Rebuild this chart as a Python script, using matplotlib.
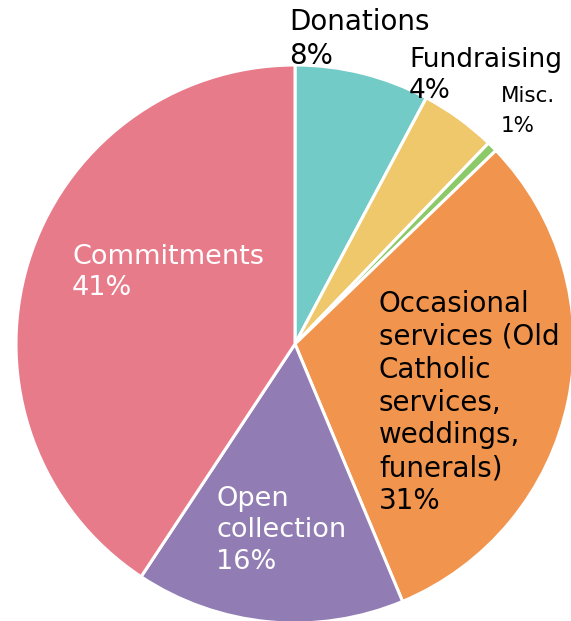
import matplotlib
matplotlib.use("Agg")
import matplotlib.pyplot as plt

categories = ["Donations", "Fundraising", "Misc.",
              "Occasional services (Old Catholic services, weddings, funerals)",
              "Open collection", "Commitments"]
values = [7.8, 4.4, 0.6, 30.9, 15.6, 40.7]
label_texts = ["Donations", "Fundraising", "Misc.",
               "Occasional\nservices (Old\nCatholic\nservices,\nweddings,\nfunerals)",
               "Open\ncollection", "Commitments"]

colors = ["#73cbc8", "#eec86a", "#8cc968", "#f0944e", "#917db3", "#e87b8a"]
text_colors = ["black", "black", "black", "black", "white", "white"]
font_sizes = [20, 19, 15.5, 20, 19.5, 19.5]
line_spacings = [1.25, 1.25, 1.6, 1.22, 1.27, 1.27]
# label anchor (left, top) in pixel coords from top-left
label_pos = [(289, 8), (409, 47), (501, 86), (379, 290), (216, 486), (72, 244)]

W, H = 571, 621
fig = plt.figure(figsize=(W / 100, H / 100), dpi=100)
ax = fig.add_axes([0, 0, 1, 1])

ax.pie(values, colors=colors, startangle=90, counterclock=False,
       radius=279, center=(295, H - 344),
       wedgeprops=dict(edgecolor="white", linewidth=2.2))
ax.set_xlim(0, W)
ax.set_ylim(0, H)
ax.set_aspect("equal")
ax.axis("off")

total = sum(values)
for txt, v, (x, y), c, fs, ls in zip(label_texts, values, label_pos, text_colors,
                                     font_sizes, line_spacings):
    pct = round(v / total * 100)
    ax.text(x, H - y, f"{txt}\n{pct}%", ha="left", va="top", color=c,
            fontsize=fs, family="DejaVu Sans", linespacing=ls)

fig.savefig("out.png", dpi=100)
